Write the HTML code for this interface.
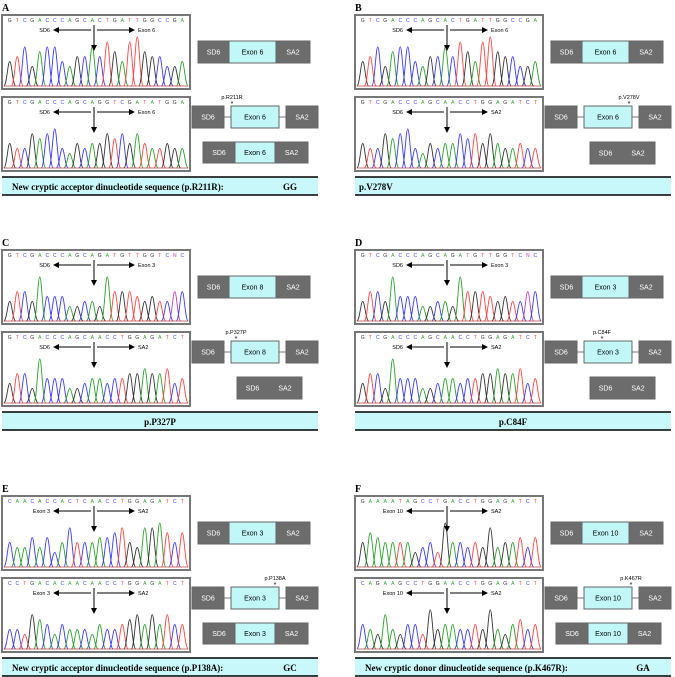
<!DOCTYPE html>
<html><head><meta charset="utf-8">
<style>
body{margin:0;background:#fff;width:675px;height:677px;overflow:hidden;font-family:"Liberation Sans",sans-serif}
svg{display:block}
</style></head>
<body>
<svg id="fig" width="675" height="677" viewBox="0 0 675 677"></svg>
<script>
const panelLabels=["A","B","C","D","E","F"];
const seqTop=["GTCGACCCAGCACTGATTGGCCGA","GTCGACCCAGCACTGATTGGCCGA","GTCGACCCAGCAGATGTTGGTCNC","GTCGACCCAGCAGATGTTGGTCNC","CAACACCACTCAACCTGGAGATCT","GAAAATAGCCTGACCTGGAGATCT"];
const seqBot=["GTCGACCCAGCAGGTCGATATGGA","GTCGACCCAGCAACCTGGAGATCT","GTCGACCCAGCAACCTGGAGATCT","GTCGACCCAGCAACCTGGAGATCT","CCTGACACAACAACCTGGAGATCT","CAGAAGCCTGGAACCTGGAGATCT"];
const hTop=[[5,6,8,4,7,8,8,5,4,6,6,8,6,9,7,5,9,10,7,6,6,4,4,5],[5,6,8,4,7,8,8,5,4,6,6,8,6,9,7,5,9,10,7,6,6,4,4,5],[4,6,6,4,9,5,5,5,3,3,4,4,3,9,6,6,6,5,4,5,4,4,6,6],[4,6,6,4,9,5,5,5,3,3,4,4,3,9,6,6,6,5,4,5,4,4,6,6],[5,4,4,6,4,6,3,5,8,5,5,5,6,6,7,8,5,4,8,8,9,7,5,7],[5,7,6,5,5,5,5,3,4,5,3,9,5,5,4,5,4,8,4,5,5,6,4,6]];
const hBot=[[5,4,4,7,6,7,8,4,3,5,4,5,5,7,6,7,5,7,5,4,4,5,4,4],[5,4,4,7,6,7,8,4,3,5,4,5,5,7,6,7,5,7,5,4,4,5,4,4],[4,6,6,3,9,5,5,5,3,3,4,5,5,4,5,5,6,6,7,6,6,7,4,5],[4,6,6,3,9,5,5,5,3,3,4,5,5,4,5,5,6,6,7,6,6,7,4,5],[4,4,3,7,6,5,3,5,4,4,4,3,5,4,4,5,6,7,5,7,5,7,5,5],[5,4,3,7,4,3,5,5,3,8,4,5,5,4,4,5,4,8,4,3,5,6,4,5]];
const arrowL=[["SD6","SD6"],["SD6","SD6"],["SD6","SD6"],["SD6","SD6"],["Exon 3","Exon 3"],["Exon 10","Exon 10"]];
const arrowR=[["Exon 6","Exon 6"],["Exon 6","SA2"],["Exon 3","SA2"],["Exon 3","SA2"],["SA2","SA2"],["SA2","SA2"]];
const exonNames=["Exon 6","Exon 6","Exon 8","Exon 3","Exon 3","Exon 10"];
const mutNames=["p.R211R","p.V278V","p.P327P","p.C84F","p.P138A","p.K467R"];
const skipExon=[false,true,true,true,false,false];
const captions=["New cryptic acceptor dinucleotide sequence (p.R211R):","p.V278V","p.P327P","p.C84F","New cryptic acceptor dinucleotide sequence (p.P138A):","New cryptic donor dinucleotide sequence (p.K467R):"];
const captionCodes=["GG","","","","GC","GA"];
const captionAlign=["left","left","center","center","left","left"];

const NS="http://www.w3.org/2000/svg";
const svg=document.getElementById('fig');
const col={A:"#2ca02c",C:"#3a3aff",G:"#333",T:"#ff4444",N:"#c040c0"};
function mk(tag,attrs,parent){const e=document.createElementNS(NS,tag);for(const k in attrs)e.setAttribute(k,attrs[k]);(parent||svg).appendChild(e);return e;}
function txt(x,y,s,size,attrs,parent){const t=mk('text',Object.assign({x:x,y:y,'font-size':size,'font-family':'"Liberation Sans",sans-serif'},attrs||{}),parent);t.textContent=s;return t;}
const offX=[0,353,0,353,0,353];
const offY=[0,0,235,235,481,481];

function chromato(g,x0,y0,seq,heights,la,ra,name){
  const W=188,H=74;
  const box=mk('rect',{x:x0,y:y0,width:W,height:H,fill:'#fff',stroke:'#777','stroke-width':2},g);
  
  
  const n=seq.length, step=(W-8)/n;
  const base=y0+H-3, topMax=y0+22;
  for(let i=0;i<n;i++){
    const c=seq[i], x=x0+4+step*(i+0.5);
    txt(x,y0+7,c,5,{fill:col[c]||'#333','text-anchor':'middle'},g);
    const h=heights[i]/10*(base-topMax);
    const w=step*0.8;
    const p=mk('path',{d:`M${x-w},${base} C${x-w/2},${base} ${x-w/3},${base-h} ${x},${base-h} C${x+w/3},${base-h} ${x+w/2},${base} ${x+w},${base}`,fill:'none',stroke:col[c]||'#333','stroke-width':0.9},g);
    
    
  }
  mk('line',{x1:x0+2,y1:base,x2:x0+W-2,y2:base,stroke:'#b44','stroke-width':0.8},g);
  const cx=x0+92, ay=y0+15;
  mk('line',{x1:cx-3,y1:ay,x2:cx-40,y2:ay,stroke:'#000','stroke-width':1,'marker-end':'url(#ah)'},g);
  mk('line',{x1:cx+3,y1:ay,x2:cx+40,y2:ay,stroke:'#000','stroke-width':1,'marker-end':'url(#ah)'},g);
  mk('line',{x1:cx,y1:ay-5,x2:cx,y2:ay+20,stroke:'#000','stroke-width':1,'marker-end':'url(#ah)'},g);
  txt(cx-44,ay+2,la,5.5,{'text-anchor':'end'},g);
  txt(cx+44,ay+2,ra,5.5,{},g);
}
function block(g,x,y,w,h,fill,label,name){
  const r=mk('rect',{x:x,y:y,width:w,height:h,fill:fill,stroke:'#666','stroke-width':1},g);
  
  
  txt(x+w/2,y+h/2+2.5,label,7,{'text-anchor':'middle',fill:fill==='#6c6c6c'?'#fff':'#000'},g);
}
const defs=mk('defs',{});
const mkr=mk('marker',{id:'ah',markerWidth:6,markerHeight:6,refX:5,refY:3,orient:'auto',markerUnits:'userSpaceOnUse'},defs);
mk('path',{d:'M0,0 L6,3 L0,6 z',fill:'#000'},mkr);

for(let p=0;p<6;p++){
  const g=mk('g',{transform:`translate(${offX[p]},${offY[p]})`});
  
  
  txt(2,11,panelLabels[p],10,{'font-weight':'bold','font-family':'"Liberation Serif",serif'},g);
  chromato(g,2,15,seqTop[p],hTop[p],arrowL[p][0],arrowR[p][0],'wildtype');
  chromato(g,2,97,seqBot[p],hBot[p],arrowL[p][1],arrowR[p][1],'mutant');
  const GR='#6c6c6c',CY='#c2f7f8';
  block(g,198,41,31,22,GR,'SD6','sd6-box');
  block(g,229,41,47,22,CY,exonNames[p],'exon-box');
  block(g,276,41,34,22,GR,'SA2','sa2-box');
  mk('line',{x1:224,y1:117,x2:318,y2:117,stroke:'#777','stroke-width':1},g);
  block(g,192,106,32,22,GR,'SD6','sd6-box');
  block(g,231,106,48,22,CY,exonNames[p],'exon-box');
  block(g,286,106,32,22,GR,'SA2','sa2-box');
  const mx=[232,276,236,249,275,278][p];
  txt(mx,99,mutNames[p],5.5,{'text-anchor':'middle'},g);
  txt(mx,106,'*',7,{'text-anchor':'middle'},g);
  if(skipExon[p]){
    block(g,237,142,31,22,GR,'SD6','sd6-box');
    block(g,268,142,34,22,GR,'SA2','sa2-box');
    mk('line',{x1:268,y1:143,x2:268,y2:163,stroke:GR,'stroke-width':1.5},g);
  } else {
    block(g,203,142,32,21,GR,'SD6','sd6-box');
    block(g,235,142,40,21,CY,exonNames[p],'exon-box');
    block(g,275,142,33,21,GR,'SA2','sa2-box');
  }
  const cb=mk('rect',{x:2,y:177,width:316,height:18,fill:'#c8f8fa'},g);
  
  
  mk('line',{x1:2,y1:177,x2:318,y2:177,stroke:'#000','stroke-width':1.5},g);
  mk('line',{x1:2,y1:195,x2:318,y2:195,stroke:'#000','stroke-width':1.5},g);
  if(captionAlign[p]==='center') txt(160,190,captions[p],9,{'text-anchor':'middle','font-weight':'bold','font-family':'"Liberation Serif",serif'},g);
  else txt(p===1?6:12,190,captions[p],9,{'font-weight':'bold','font-family':'"Liberation Serif",serif'},g);
  if(captionCodes[p]) txt(290,190,captionCodes[p],9,{'text-anchor':'middle','font-weight':'bold','font-family':'"Liberation Serif",serif'},g);
}
</script>
</body></html>
